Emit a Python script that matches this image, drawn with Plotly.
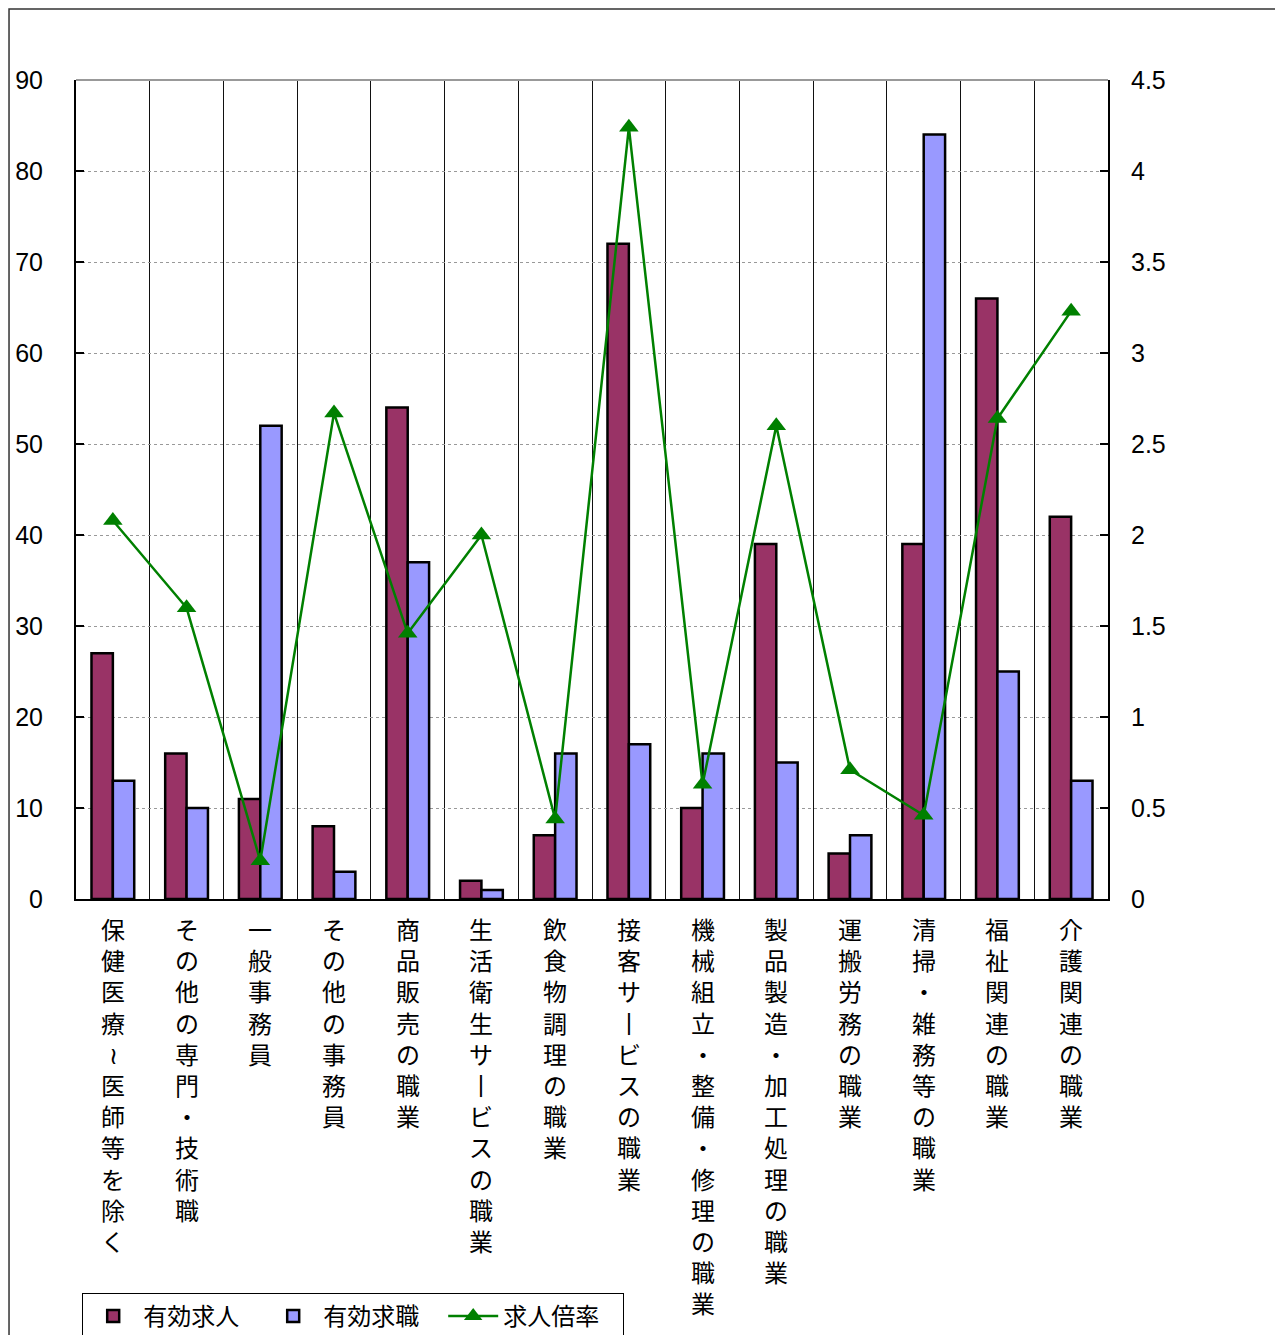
import plotly.graph_objects as go

# 職業別 有効求人・有効求職・求人倍率
categories = [
    '保健医療～医師等を除く', 'その他の専門・技術職', '一般事務員', 'その他の事務員',
    '商品販売の職業', '生活衛生サービスの職業', '飲食物調理の職業', '接客サービスの職業',
    '機械組立・整備・修理の職業', '製品製造・加工処理の職業', '運搬労務の職業',
    '清掃・雑務等の職業', '福祉関連の職業', '介護関連の職業',
]
kyujin = [27, 16, 11, 8, 54, 2, 7, 72, 10, 39, 5, 39, 66, 42]
kyushoku = [13, 10, 52, 3, 37, 1, 16, 17, 16, 15, 7, 84, 25, 13]
bairitsu = [2.08, 1.60, 0.21, 2.67, 1.46, 2.00, 0.44, 4.24, 0.63, 2.60, 0.71, 0.46, 2.64, 3.23]

JP = 'Noto Sans CJK JP'
NUM = 'Liberation Sans'

fig = go.Figure()
fig.add_trace(go.Bar(
    x=categories, y=kyujin, name='有効求人',
    marker=dict(color='#993366', line=dict(color='black', width=2.5)),
))
fig.add_trace(go.Bar(
    x=categories, y=kyushoku, name='有効求職',
    marker=dict(color='#9999FF', line=dict(color='black', width=2.5)),
))
fig.add_trace(go.Scatter(
    x=categories, y=bairitsu, name='求人倍率', yaxis='y2',
    mode='lines+markers',
    line=dict(color='#008000', width=2.5),
    marker=dict(symbol='triangle-up', size=17, color='#008000'),
))


def vertical(s):
    # 縦書き風に1文字ずつ改行
    s = s.replace('ー', '丨').replace('～', '≀')
    return '<br>'.join(list(s))


annotations = [
    dict(x=c, y=-0.012, xref='x', yref='paper', text=vertical(c),
         showarrow=False, yanchor='top', xanchor='center',
         font=dict(family=JP, size=24, color='black'))
    for c in categories
]

shapes = [
    # outer frame
    dict(type='rect', xref='paper', yref='paper', x0=-0.0649, x1=1.1667,
         y0=-0.6, y1=1.0867, line=dict(color='#333333', width=1.5)),
    # plot top edge
    dict(type='line', xref='paper', yref='paper', x0=0, x1=1, y0=1, y1=1,
         line=dict(color='#999999', width=2)),
]

# page body has an 8px margin, so the figure is drawn 8px smaller
fig.update_layout(
    width=1275, height=1327,
    margin=dict(l=68, r=175, t=72, b=436, autoexpand=False),
    paper_bgcolor='white', plot_bgcolor='white',
    barmode='group', bargap=0.42, bargroupgap=0,
    font=dict(family=NUM, size=25, color='black'),
    showlegend=True,
    legend=dict(
        orientation='h', x=0.006, y=-0.481, xanchor='left', yanchor='top',
        bordercolor='black', borderwidth=1, bgcolor='white',
        font=dict(family=JP, size=24, color='black'),
        itemwidth=50, tracegroupgap=0, entrywidth=115,
    ),
    xaxis=dict(
        type='category', range=[-0.5, len(categories) - 0.5],
        tickson='boundaries', showgrid=True,
        gridcolor='#111111', gridwidth=1,
        showticklabels=False, ticks='',
        showline=True, linecolor='black', linewidth=2,
    ),
    yaxis=dict(
        range=[0, 90], dtick=10, showgrid=True,
        gridcolor='#999999', griddash='dot', gridwidth=1,
        showline=True, linecolor='black', linewidth=2,
        ticks='inside', ticklen=8, tickcolor='black', tickwidth=2,
        ticklabelstandoff=26, zeroline=False,
        tickfont=dict(family=NUM, size=25),
    ),
    yaxis2=dict(
        range=[0, 4.5], dtick=0.5, overlaying='y', side='right',
        showgrid=False, zeroline=False,
        showline=True, linecolor='black', linewidth=2,
        ticks='inside', ticklen=8, tickcolor='black', tickwidth=2,
        ticklabelstandoff=16,
        tickfont=dict(family=NUM, size=25),
    ),
    annotations=annotations,
    shapes=shapes,
)

fig.write_html('out.html')
